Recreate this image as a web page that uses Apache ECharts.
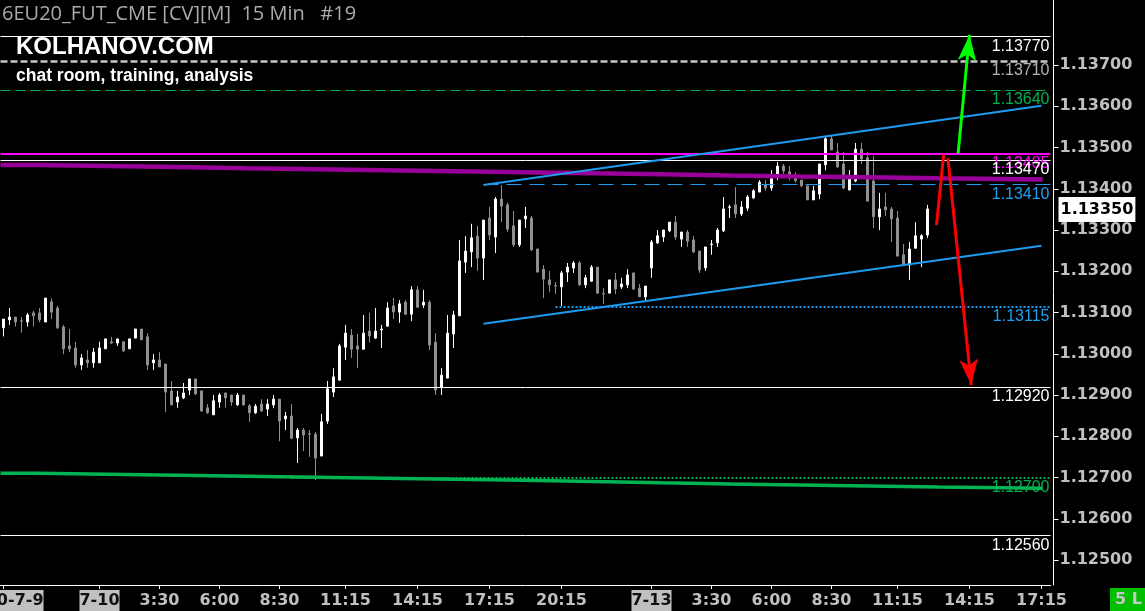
<!DOCTYPE html>
<html>
<head>
<meta charset="utf-8">
<script src="https://cdn.jsdelivr.net/npm/echarts@6/dist/echarts.min.js"></script>
<style>html,body{margin:0;padding:0;background:#000;}#chart{width:1145px;height:611px;}</style>
</head>
<body>
<div id="chart"></div>
<script>
// ---------- data ----------
const opens = [1.13063,1.13082,1.13089,1.13080,1.13077,1.13099,1.13099,1.13077,1.13126,1.13111,
1.13065,1.13019,1.13014,1.12973,1.12985,1.12978,1.12978,1.13012,1.13029,1.13026,
1.13029,1.13012,1.13038,1.13060,1.13041,1.12978,1.12985,1.12975,1.12910,1.12883,
1.12893,1.12912,1.12939,1.12910,1.12869,1.12852,1.12883,1.12905,1.12900,1.12876,
1.12900,1.12874,1.12857,1.12878,1.12866,1.12876,1.12890,1.12842,1.12849,1.12796,
1.12815,1.12806,1.12805,1.12752,1.12837,1.12907,1.12936,1.13016,1.13045,1.13019,
1.13011,1.13055,1.13038,1.13058,1.13067,1.13116,1.13101,1.13125,1.13096,1.13155,
1.13118,1.13125,1.13028,1.12919,1.12941,1.13048,1.13092,1.13222,1.13247,1.13285,
1.13232,1.13329,1.13283,1.13375,1.13361,1.13310,1.13264,1.13327,1.13329,1.13254,
1.13205,1.13179,1.13165,1.13162,1.13198,1.13208,1.13220,1.13167,1.13176,1.13210,
1.13146,1.13147,1.13179,1.13162,1.13167,1.13196,1.13159,1.13138,1.13208,1.13269,
1.13283,1.13298,1.13319,1.13278,1.13295,1.13276,1.13249,1.13208,1.13265,1.13269,
1.13298,1.13355,1.13361,1.13339,1.13353,1.13378,1.13392,1.13409,1.13402,1.13433,
1.13455,1.13441,1.13433,1.13421,1.13407,1.13373,1.13387,1.13458,1.13521,1.13489,
1.13460,1.13397,1.13419,1.13496,1.13475,1.13419,1.13332,1.13356,1.13351,1.13329,
1.13240,1.13215,1.13256,1.13278,1.13288];
const closes = [1.13084,1.13089,1.13077,1.13079,1.13094,1.13092,1.13082,1.13135,1.13101,1.13063,
1.13012,1.13012,1.12973,1.12990,1.12978,1.13004,1.13014,1.13036,1.13026,1.13036,
1.13007,1.13036,1.13060,1.13034,1.12973,1.12985,1.12968,1.12907,1.12876,1.12895,
1.12905,1.12939,1.12903,1.12861,1.12857,1.12886,1.12900,1.12893,1.12883,1.12900,
1.12876,1.12857,1.12873,1.12861,1.12878,1.12890,1.12837,1.12849,1.12795,1.12815,
1.12803,1.12805,1.12747,1.12835,1.12915,1.12944,1.13019,1.13050,1.13011,1.13011,
1.13050,1.13043,1.13055,1.13060,1.13111,1.13101,1.13121,1.13096,1.13155,1.13113,
1.13125,1.13021,1.12912,1.12948,1.13050,1.13094,1.13225,1.13249,1.13281,1.13232,
1.13324,1.13288,1.13375,1.13358,1.13302,1.13264,1.13324,1.13334,1.13252,1.13198,
1.13181,1.13167,1.13164,1.13196,1.13210,1.13220,1.13167,1.13184,1.13210,1.13147,
1.13145,1.13179,1.13157,1.13169,1.13191,1.13157,1.13138,1.13164,1.13271,1.13286,
1.13300,1.13319,1.13283,1.13295,1.13273,1.13247,1.13203,1.13259,1.13266,1.13300,
1.13351,1.13356,1.13339,1.13356,1.13380,1.13395,1.13416,1.13402,1.13424,1.13455,
1.13443,1.13433,1.13420,1.13407,1.13373,1.13395,1.13460,1.13521,1.13494,1.13453,
1.13402,1.13424,1.13496,1.13472,1.13370,1.13332,1.13351,1.13349,1.13327,1.13237,
1.13215,1.13254,1.13286,1.13286,1.13351];
const lows = [1.13042,1.13070,1.13066,1.13051,1.13066,1.13066,1.13076,1.13077,1.13084,1.13060,
1.12999,1.13004,1.12966,1.12961,1.12966,1.12966,1.12978,1.13012,1.13024,1.13019,
1.13004,1.13012,1.13038,1.13034,1.12961,1.12961,1.12968,1.12859,1.12876,1.12869,
1.12890,1.12900,1.12900,1.12861,1.12854,1.12852,1.12869,1.12869,1.12874,1.12874,
1.12874,1.12835,1.12854,1.12859,1.12849,1.12868,1.12788,1.12815,1.12793,1.12735,
1.12764,1.12750,1.12694,1.12752,1.12830,1.12895,1.12936,1.12985,1.12990,1.12965,
1.13011,1.13028,1.13036,1.13014,1.13065,1.13084,1.13075,1.13094,1.13079,1.13111,
1.13111,1.13009,1.12900,1.12900,1.12941,1.13014,1.13092,1.13196,1.13210,1.13201,
1.13179,1.13276,1.13244,1.13319,1.13295,1.13259,1.13259,1.13305,1.13249,1.13198,
1.13135,1.13150,1.13145,1.13116,1.13174,1.13196,1.13164,1.13159,1.13174,1.13145,
1.13121,1.13147,1.13145,1.13157,1.13159,1.13155,1.13138,1.13130,1.13184,1.13266,
1.13271,1.13295,1.13276,1.13259,1.13259,1.13244,1.13196,1.13201,1.13240,1.13259,
1.13295,1.13329,1.13329,1.13334,1.13346,1.13375,1.13392,1.13395,1.13395,1.13421,
1.13436,1.13421,1.13415,1.13404,1.13373,1.13373,1.13375,1.13445,1.13494,1.13450,
1.13399,1.13397,1.13416,1.13460,1.13370,1.13305,1.13300,1.13334,1.13271,1.13235,
1.13213,1.13179,1.13254,1.13210,1.13281];
const highs = [1.13084,1.13111,1.13089,1.13089,1.13099,1.13104,1.13111,1.13135,1.13135,1.13116,
1.13070,1.13060,1.13029,1.12999,1.13009,1.13014,1.13029,1.13036,1.13041,1.13036,
1.13029,1.13036,1.13060,1.13060,1.13050,1.12999,1.13004,1.12975,1.12934,1.12910,
1.12929,1.12939,1.12939,1.12910,1.12878,1.12900,1.12905,1.12905,1.12900,1.12905,
1.12900,1.12878,1.12878,1.12890,1.12890,1.12900,1.12890,1.12859,1.12878,1.12820,
1.12820,1.12815,1.12810,1.12854,1.12934,1.12965,1.13024,1.13070,1.13060,1.13048,
1.13094,1.13099,1.13111,1.13070,1.13125,1.13135,1.13130,1.13130,1.13164,1.13164,
1.13155,1.13130,1.13050,1.12965,1.13094,1.13104,1.13276,1.13285,1.13315,1.13310,
1.13324,1.13356,1.13380,1.13409,1.13366,1.13346,1.13324,1.13356,1.13334,1.13254,
1.13215,1.13201,1.13174,1.13201,1.13220,1.13225,1.13225,1.13191,1.13215,1.13210,
1.13159,1.13179,1.13196,1.13184,1.13205,1.13196,1.13169,1.13164,1.13276,1.13300,
1.13300,1.13319,1.13334,1.13295,1.13300,1.13286,1.13249,1.13259,1.13276,1.13305,
1.13380,1.13361,1.13404,1.13370,1.13385,1.13399,1.13421,1.13421,1.13445,1.13465,
1.13460,1.13455,1.13440,1.13421,1.13407,1.13407,1.13460,1.13528,1.13528,1.13511,
1.13489,1.13445,1.13511,1.13511,1.13489,1.13479,1.13390,1.13390,1.13356,1.13346,
1.13266,1.13271,1.13319,1.13290,1.13361];

// trading sessions of 15-minute bars (day label, first bar minute, bar count incl. empty future slots)
const sessionDays = ['7-9', '7-10', '7-13'];
const sessionStartMinutes = [20 * 60, 60, 60];
const sessionBarCounts = [16, 92, 67];

// time-axis tick labels
const tickIndices = [0, 16, 26, 36, 46, 57, 69, 81, 93, 108, 118, 128, 138, 149, 161, 173];
const tickLabels = ['2020-7-9', '7-10', '3:30', '6:00', '8:30', '11:15', '14:15', '17:15', '20:15',
                    '7-13', '3:30', '6:00', '8:30', '11:15', '14:15', '17:15'];

// price-axis tick labels
const priceTicks = [1.125, 1.126, 1.127, 1.128, 1.129, 1.130, 1.131, 1.132, 1.133, 1.134, 1.135, 1.136, 1.137];
const currentPrice = 1.13350;

// horizontal levels: value and first bar index (null = whole width)
const levelValues = [1.13770, 1.13710, 1.13640, 1.13485, 1.13470, 1.13410, 1.13115, 1.12920, 1.12700, 1.12560];
const levelStartIndex = [null, null, null, null, null, 80, 92, null, 48, null];

// trend channel [barIndex, price]
const channelUpper = [[80, 1.13409], [173, 1.13601]];
const channelLower = [[80, 1.13073], [173, 1.13262]];

// scenario arrows [barIndex, price]
const arrowGreen = [[159.1, 1.13486], [161.0, 1.13773]];
const arrowRedUp = [[155.5, 1.13312], [156.7, 1.13484]];
const arrowRedDown = [[157.4, 1.13474], [161.3, 1.12924]];

// stepped moving averages [barIndex where step starts, price]
const purpleMA = [[-0.5,1.134576],[5.83,1.134552],[17.33,1.134527],[29,1.134496],[40.5,1.134472],[52,1.134447],
  [63.5,1.134423],[75,1.134399],[86.67,1.134375],[98.17,1.134350],[109.67,1.134321],[121.17,1.134297],
  [132.67,1.134278],[144.17,1.134253],[155.83,1.134224],[173.17,1.134224]];
const greenMA = [[-0.5,1.127102],[5.83,1.127078],[17.33,1.127053],[29,1.127029],[40.5,1.127005],[52,1.126981],
  [63.5,1.126956],[75,1.126932],[86.67,1.126903],[98.17,1.126871],[109.67,1.126842],[121.17,1.126818],
  [132.67,1.126794],[144.17,1.126770],[155.83,1.126738],[173.17,1.126738]];

const titleText = '6EU20_FUT_CME [CV][M]  15 Min   #19';
const brandText = 'KOLHANOV.COM';
const taglineText = 'chat room, training, analysis';
const cornerText = '5 L';

// ---------- build ----------
const categories = [];
sessionDays.forEach((d, s) => {
  for (let k = 0; k < sessionBarCounts[s]; k++) {
    const m = sessionStartMinutes[s] + 15 * k;
    categories.push(d + ' ' + Math.floor(m / 60) + ':' + String(m % 60).padStart(2, '0'));
  }
});
const candleData = opens.map((o, i) => [o, closes[i], lows[i], highs[i]]);
const tickSet = new Set(tickIndices);
const lastIdx = categories.length - 0.5;

const levelStyles = [
  {color: '#ffffff', width: 1, type: 'solid', label: '#ffffff'},
  {color: '#c8c8c8', width: 2.5, type: [7, 3], label: '#b4b4b4'},
  {color: '#00b050', width: 1, type: [10, 5], label: '#00b050'},
  {color: '#ff00ff', width: 2, type: 'solid', label: '#ff00ff'},
  {color: '#ffffff', width: 1, type: 'solid', label: '#ffffff'},
  {color: '#1e9bf0', width: 1, type: [15, 8], label: '#1ea0f0'},
  {color: '#1e9bf0', width: 2, type: [2, 2], label: '#1ea0f0'},
  {color: '#ffffff', width: 1, type: 'solid', label: '#ffffff'},
  {color: '#00b050', width: 2, type: [2, 2], label: '#00b050'},
  {color: '#ffffff', width: 1, type: 'solid', label: '#ffffff'}
];

const levelLines = levelValues.map((v, i) => {
  const st = levelStyles[i];
  const lineStyle = {color: st.color, width: st.width, type: st.type};
  const label = {show: true, position: 'insideEndBottom', distance: [1, 2], formatter: v.toFixed(5),
                 color: st.label, fontFamily: 'Liberation Sans', fontSize: 16};
  const start = levelStartIndex[i] === null ? -0.5 : levelStartIndex[i];
  return [{coord: [start, v], lineStyle, label}, {coord: [lastIdx, v]}];
});

const plainLine = (pts, color, width) => [
  {coord: pts[0], symbol: 'none', lineStyle: {color, width, type: 'solid'}, label: {show: false}},
  {coord: pts[1], symbol: 'none'}
];
const arrowLine = (pts, color, width) => [
  {coord: pts[0], symbol: 'none', lineStyle: {color, width, type: 'solid'}, label: {show: false}},
  {coord: pts[1], symbol: 'arrow', symbolSize: [14, 26]}
];

const shapeLines = [
  plainLine(channelUpper, '#1e9bf0', 2),
  plainLine(channelLower, '#1e9bf0', 2),
  arrowLine(arrowGreen, '#00ff00', 3),
  plainLine(arrowRedUp, '#ff0000', 3),
  arrowLine(arrowRedDown, '#ff0000', 3)
];

const axisFont = {fontFamily: 'DejaVu Sans', fontWeight: 'bold', fontSize: 16};

const chart = echarts.init(document.getElementById('chart'), null, {renderer: 'canvas'});
chart.setOption({
  backgroundColor: '#000000',
  animation: false,
  grid: {left: 0.5, top: 0, width: 1050, height: 585, containLabel: false, outerBoundsMode: 'none'},
  xAxis: [
    {
      type: 'category', data: categories, boundaryGap: true,
      axisLine: {show: true, onZero: false, lineStyle: {color: '#ffffff', width: 1}},
      axisTick: {show: true, alignWithLabel: true, interval: (i) => tickSet.has(i), length: 4,
                 lineStyle: {color: '#ffffff'}},
      axisLabel: {
        interval: (i) => tickSet.has(i), margin: 5, hideOverlap: false,
        formatter: (val, i) => {
          const t = tickLabels[tickIndices.indexOf(i)] || '';
          return t.indexOf('-') >= 0 ? '{d|' + t + '}' : '{t|' + t + '}';
        },
        rich: {
          d: Object.assign({backgroundColor: '#c0c0c0', color: '#111111', padding: [3, 0, 3, 0]}, axisFont),
          t: Object.assign({color: '#c0c0c0', padding: [3, 0, 3, 0]}, axisFont)
        }
      },
      splitLine: {show: false}
    },
    {type: 'value', min: -0.5, max: lastIdx, show: false, axisLine: {onZero: false}}
  ],
  yAxis: [
    {
      type: 'value', position: 'right', offset: 3, min: 1.124394, max: 1.138576, scale: true,
      axisLine: {show: true, onZero: false, lineStyle: {color: '#ffffff', width: 1}},
      axisTick: {show: true, length: 5, customValues: priceTicks, lineStyle: {color: '#ffffff'}},
      axisLabel: Object.assign({color: '#c0c0c0', margin: 6, customValues: priceTicks,
                                formatter: (v) => v.toFixed(5)}, axisFont),
      splitLine: {show: false}
    },
    {
      type: 'value', position: 'right', offset: 3, min: 1.124394, max: 1.138576, scale: true,
      axisLine: {show: false, onZero: false}, axisTick: {show: false},
      axisLabel: Object.assign({color: '#000000', margin: 5, customValues: [currentPrice],
                                backgroundColor: '#ffffff', padding: [5, 2, 4, 2],
                                formatter: (v) => v.toFixed(5)}, axisFont),
      splitLine: {show: false}
    }
  ],
  series: [
    {
      type: 'candlestick', xAxisIndex: 0, yAxisIndex: 0, data: candleData,
      barWidth: 3, z: 2,
      itemStyle: {color: '#ffffff', color0: '#8f8f8f', borderColor: '#ffffff', borderColor0: '#8f8f8f', borderWidth: 1}
    },
    {
      type: 'line', xAxisIndex: 1, yAxisIndex: 0, data: greenMA, step: 'end', symbol: 'none', z: 4,
      lineStyle: {color: '#00b454', width: 3.5}
    },
    {
      type: 'line', xAxisIndex: 1, yAxisIndex: 0, data: purpleMA, step: 'end', symbol: 'none', z: 4,
      lineStyle: {color: '#990099', width: 4.5},
      markLine: {silent: true, symbol: ['none', 'none'], z: 5, animation: false, precision: 6,
                 data: levelLines.concat(shapeLines)}
    }
  ],
  graphic: [
    {type: 'text', x: 2, y: 14, z: 10, style: {text: titleText, font: '20px "Open Sans"', fill: '#aaaaaa', verticalAlign: 'middle'}},
    {type: 'text', x: 16, y: 47.5, z: 10, style: {text: brandText, font: 'bold 24px "Liberation Sans"', fill: '#ffffff', verticalAlign: 'middle'}},
    {type: 'text', x: 16, y: 76.5, z: 10, style: {text: taglineText, font: 'bold 17.5px "Liberation Sans"', fill: '#ffffff', verticalAlign: 'middle'}},
    {type: 'rect', shape: {x: 1110, y: 588, width: 35, height: 23}, z: 10, style: {fill: '#00c000'}},
    {type: 'text', x: 1115, y: 600, z: 11, style: {text: cornerText, font: 'bold 16px "DejaVu Sans"', fill: '#c8c8c8', verticalAlign: 'middle'}}
  ]
});
</script>
</body>
</html>
